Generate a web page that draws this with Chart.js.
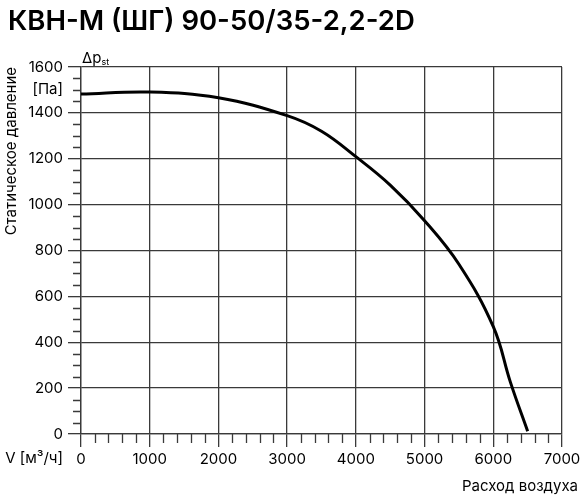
<!DOCTYPE html>
<html>
<head>
<meta charset="utf-8">
<script src="https://cdn.jsdelivr.net/npm/chart.js@4"></script>
<style>
  html, body { margin: 0; padding: 0; background: #fff; }
  #wrap { width: 588px; height: 503px; }
</style>
</head>
<body>
<div id="wrap"><canvas id="fanChart" width="588" height="503"></canvas></div>
<script>
// airflow, m3/h
const flow = [0, 1000, 2000, 3000, 3500, 4000, 4500, 5000, 5500, 6000, 6250, 6500];
// static pressure, Pa
const pressure = [1482, 1491, 1466, 1388, 1320, 1209, 1085, 930, 740, 468, 225, 12];

const xTicks = [0, 1000, 2000, 3000, 4000, 5000, 6000, 7000];
const yTicks = [0, 200, 400, 600, 800, 1000, 1200, 1400, 1600];

const chartTitle = 'КВН-М (ШГ) 90-50/35-2,2-2D';
const yTitle = 'Статическое давление';
const xTitle = 'Расход воздуха';
const xUnit = 'V [м³/ч]';
const yUnit = '[Па]';

const FONT = 'Inter, Roboto, sans-serif';
const gridColor = '#3a3a3a';

// minor ticks, unit labels and the heading
const extras = {
    id: 'extras',
    afterDraw(chart) {
        const c = chart.ctx;
        const xs = chart.scales.x;
        const ys = chart.scales.y;
        const left = chart.chartArea.left;
        const bottom = chart.chartArea.bottom;

        c.save();
        c.strokeStyle = gridColor;
        c.lineWidth = 1.3;
        c.beginPath();
        for (let v = 50; v < 1600; v += 50) {
            if (v % 200 === 0) continue;
            const y = Math.round(ys.getPixelForValue(v)) + 0.5;
            c.moveTo(left - 8, y);
            c.lineTo(left, y);
        }
        for (let v = 200; v < 7000; v += 200) {
            if (v % 1000 === 0) continue;
            const x = Math.round(xs.getPixelForValue(v)) + 0.5;
            c.moveTo(x, bottom);
            c.lineTo(x, bottom + 9);
        }
        c.stroke();

        c.fillStyle = '#000';
        c.textBaseline = 'middle';
        c.textAlign = 'right';
        c.font = '15px ' + FONT;
        c.fillText(yUnit, 63, ys.getPixelForValue(1500));
        c.fillText(xUnit, 63, 458);
        c.fillText(xTitle, 578, 486);

        c.textAlign = 'left';
        c.textBaseline = 'alphabetic';
        c.fillText('Δp', 82, 63);
        const w = c.measureText('Δp').width;
        c.font = '9px ' + FONT;
        c.fillText('st', 82 + w, 65);

        c.font = '600 27.5px ' + FONT;
        c.fillText(chartTitle, 8, 30);
        c.restore();
    }
};

new Chart(document.getElementById('fanChart'), {
    type: 'scatter',
    data: {
        datasets: [{
            data: flow.map((v, i) => ({ x: v, y: pressure[i] })),
            showLine: true,
            borderColor: '#000',
            borderWidth: 3,
            pointRadius: 0,
            tension: 0.4,
            fill: false
        }]
    },
    options: {
        responsive: false,
        animation: false,
        layout: { padding: { left: 0, top: 67, right: 26, bottom: 0 } },
        plugins: {
            legend: { display: false },
            tooltip: { enabled: false }
        },
        scales: {
            x: {
                type: 'linear',
                min: 0,
                max: 7000,
                afterBuildTicks: s => { s.ticks = xTicks.map(v => ({ value: v })); },
                afterFit: s => { s.height = 69; },
                ticks: {
                    callback: v => String(v),
                    color: '#000',
                    font: { family: FONT, size: 15 },
                    padding: 3,
                    maxRotation: 0
                },
                grid: { color: gridColor, lineWidth: 1.3, tickLength: 13, tickColor: gridColor },
                border: { color: gridColor, width: 1.3 }
            },
            y: {
                type: 'linear',
                min: 0,
                max: 1600,
                afterBuildTicks: s => { s.ticks = yTicks.map(v => ({ value: v })); },
                afterFit: s => { s.width = 81; },
                ticks: {
                    callback: v => String(v),
                    color: '#000',
                    font: { family: FONT, size: 15 },
                    padding: 5
                },
                grid: { color: gridColor, lineWidth: 1.3, tickLength: 13, tickColor: gridColor },
                border: { color: gridColor, width: 1.3 },
                title: {
                    display: true,
                    text: yTitle,
                    align: 'end',
                    color: '#000',
                    font: { family: FONT, size: 15 },
                    padding: { top: 2, bottom: 0 }
                }
            }
        }
    },
    plugins: [extras]
});
</script>
</body>
</html>
